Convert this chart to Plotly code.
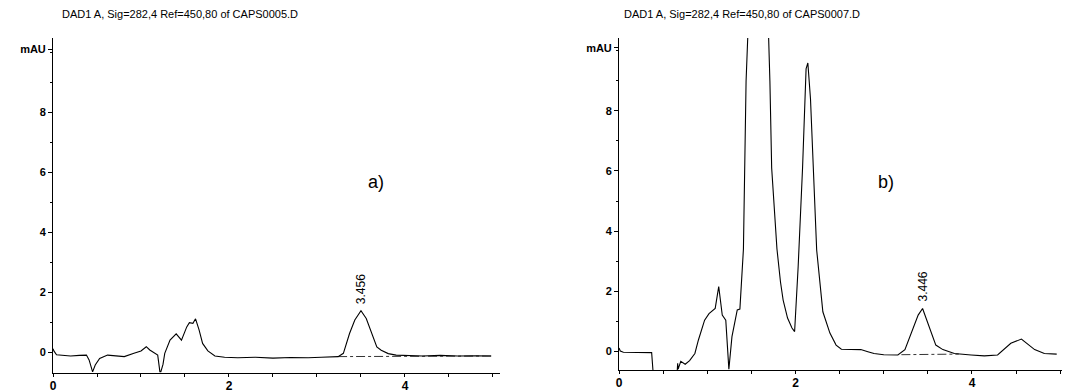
import plotly.graph_objects as go

W, H = 1065, 392

# ---- data: chromatogram a) ----
time_a = [0.00, 0.01, 0.04, 0.10, 0.20, 0.30, 0.38, 0.41, 0.45, 0.48, 0.53, 0.62, 0.70, 0.81,
          0.92, 1.00, 1.06, 1.10, 1.19, 1.215, 1.225, 1.25, 1.27, 1.33, 1.40, 1.46, 1.52, 1.55,
          1.59, 1.62, 1.66, 1.70, 1.76, 1.84, 1.95, 2.10, 2.30, 2.50, 2.70, 2.90, 3.05, 3.14,
          3.24, 3.30, 3.37, 3.43, 3.50, 3.56, 3.62, 3.68, 3.73, 3.81, 3.90, 4.00, 4.20, 4.40,
          4.60, 4.80, 4.98]
signal_a = [0.12, 0.05, -0.08, -0.10, -0.12, -0.10, -0.09, -0.25, -0.65, -0.42, -0.20, -0.09,
            -0.12, -0.14, -0.03, 0.05, 0.19, 0.08, -0.09, -0.65, -0.65, -0.40, -0.03, 0.41, 0.62,
            0.41, 0.85, 0.99, 0.97, 1.12, 0.75, 0.30, 0.05, -0.12, -0.16, -0.18, -0.16, -0.19,
            -0.17, -0.18, -0.16, -0.14, -0.14, -0.03, 0.63, 1.08, 1.39, 1.13, 0.68, 0.18, 0.07,
            -0.04, -0.09, -0.10, -0.12, -0.10, -0.12, -0.11, -0.12]
base_a_t = [3.24, 4.98]
base_a_y = [-0.14, -0.12]

# ---- data: chromatogram b) ----
time_b = [0.00, 0.015, 0.05, 0.15, 0.25, 0.37, 0.385, 0.40, 0.66, 0.665, 0.67, 0.70, 0.75,
          0.80, 0.86, 0.90, 0.97, 1.02, 1.05, 1.09, 1.13, 1.17, 1.21, 1.245, 1.28, 1.34, 1.37,
          1.39, 1.41, 1.44, 1.50, 1.57, 1.64, 1.71, 1.73, 1.76, 1.79, 1.83, 1.86, 1.91, 1.96,
          1.99, 2.03, 2.08, 2.12, 2.14, 2.17, 2.24, 2.31, 2.39, 2.46, 2.52, 2.66, 2.74, 2.82,
          2.89, 3.00, 3.16, 3.24, 3.31, 3.39, 3.44, 3.52, 3.59, 3.67, 3.80, 3.99, 4.14, 4.29,
          4.44, 4.56, 4.62, 4.71, 4.82, 4.96]
signal_b = [0.10, 0.0, -0.04, -0.05, -0.04, -0.05, -0.65, -0.65, -0.65, -0.41, -0.60, -0.34,
            -0.44, -0.32, -0.08, 0.37, 1.03, 1.25, 1.31, 1.42, 2.15, 1.20, 1.03, -0.60, 0.48,
            1.37, 1.40, 2.27, 3.40, 9.0, 16.0, 19.0, 16.0, 9.0, 6.1, 4.8, 3.4, 2.3, 1.7, 1.1,
            0.77, 0.65, 2.8, 6.1, 9.4, 9.6, 8.4, 3.37, 1.31, 0.60, 0.20, 0.06, 0.06, 0.05,
            -0.02, -0.08, -0.12, -0.13, 0.05, 0.60, 1.20, 1.42, 0.80, 0.20, 0.05, -0.08, -0.13,
            -0.16, -0.13, 0.26, 0.40, 0.27, 0.05, -0.08, -0.10]
base_b_t = [3.20, 3.85]
base_b_y = [-0.12, -0.10]

titles = ["DAD1 A, Sig=282,4 Ref=450,80 of CAPS0005.D",
          "DAD1 A, Sig=282,4 Ref=450,80 of CAPS0007.D"]
panel_labels = ["a)", "b)"]
peak_labels = ["3.456", "3.446"]
peak_pos = [(3.50, 1.39), (3.44, 1.42)]
y_tickvals = [0, 2, 4, 6, 8, 10.1]
y_ticktext = ["0", "2", "4", "6", "8", "mAU"]
x_tickvals = [0, 2, 4]

FONT = "Liberation Sans, Arial, sans-serif"
fig = go.Figure()

line = dict(color="black", width=1.1)
fig.add_trace(go.Scatter(x=time_a, y=signal_a, mode="lines", line=line,
                         xaxis="x", yaxis="y", showlegend=False))
fig.add_trace(go.Scatter(x=base_a_t, y=base_a_y, mode="lines",
                         line=dict(color="black", width=0.8, dash="dashdot"),
                         xaxis="x", yaxis="y", showlegend=False))
fig.add_trace(go.Scatter(x=time_b, y=signal_b, mode="lines", line=line,
                         xaxis="x2", yaxis="y2", showlegend=False))
fig.add_trace(go.Scatter(x=base_b_t, y=base_b_y, mode="lines",
                         line=dict(color="black", width=0.8, dash="dashdot"),
                         xaxis="x2", yaxis="y2", showlegend=False))

def px_x(p):
    return p / W

def px_y(p):
    return (H - p) / H

axis_common = dict(showgrid=False, zeroline=False, showline=True, linecolor="black",
                   linewidth=1, ticks="outside", tickcolor="black",
                   fixedrange=True, automargin=False)

xfont = dict(size=12, family=FONT, weight="bold")
yfont = dict(size=11, family=FONT, weight="bold")

fig.update_layout(
    width=W, height=H,
    margin=dict(l=0, r=0, t=0, b=0),
    paper_bgcolor="white", plot_bgcolor="white",
    font=dict(family=FONT, color="black"),
    xaxis=dict(domain=[px_x(53), px_x(500)], range=[0, 5.08], anchor="y",
               tickvals=x_tickvals, tickfont=xfont, ticklen=2,
               minor=dict(dtick=0.5, ticklen=3, tickcolor="black", ticks="outside"),
               **axis_common),
    yaxis=dict(domain=[px_y(372.5), px_y(38)], range=[-0.67, 10.48], anchor="x",
               tickvals=y_tickvals, ticktext=y_ticktext, tickfont=yfont, ticklen=4,
               minor=dict(dtick=1, ticklen=2, tickcolor="black", ticks="outside"),
               **axis_common),
    xaxis2=dict(domain=[px_x(619), px_x(1062)], range=[0, 5.02], anchor="y2",
                tickvals=x_tickvals, tickfont=xfont, ticklen=2,
                minor=dict(dtick=0.5, ticklen=3, tickcolor="black", ticks="outside"),
                **axis_common),
    yaxis2=dict(domain=[px_y(370), px_y(38)], range=[-0.63, 10.43], anchor="x2",
                tickvals=y_tickvals, ticktext=y_ticktext, tickfont=yfont, ticklen=4,
                minor=dict(dtick=1, ticklen=2, tickcolor="black", ticks="outside"),
                **axis_common),
)

annotations = []
for tx, lab in zip([60, 622], titles):
    annotations.append(dict(x=px_x(tx), y=px_y(14), xref="paper", yref="paper",
                            text=lab, showarrow=False, xanchor="left", yanchor="middle",
                            font=dict(size=11, family=FONT)))
for tx, lab in zip([376, 886], panel_labels):
    annotations.append(dict(x=px_x(tx), y=px_y(182), xref="paper", yref="paper",
                            text=lab, showarrow=False, xanchor="center", yanchor="middle",
                            font=dict(size=18, family=FONT)))
for i, lab in enumerate(peak_labels):
    sfx = "" if i == 0 else "2"
    px_, py_ = peak_pos[i]
    annotations.append(dict(x=px_, y=py_ + 0.15, xref="x" + sfx, yref="y" + sfx,
                            text=lab, showarrow=False, textangle=-90,
                            xanchor="center", yanchor="bottom",
                            font=dict(size=12, family=FONT)))
fig.update_layout(annotations=annotations)

fig.write_html("out.html", config={"displayModeBar": False},
               post_script="document.body.style.margin='0';")
